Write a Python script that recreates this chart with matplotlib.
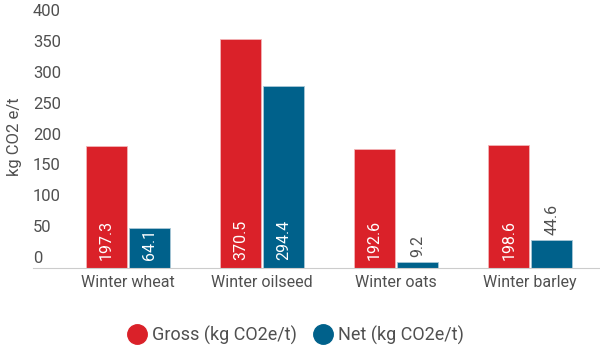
import matplotlib.pyplot as plt
import matplotlib.transforms as mtransforms
from matplotlib.lines import Line2D
import numpy as np

plt.rcParams['font.family'] = ['Roboto', 'DejaVu Sans']

# --- dados ---
culturas = ['Winter wheat', 'Winter oilseed', 'Winter oats', 'Winter barley']
bruto = [197.3, 370.5, 192.6, 198.6]
liquido = [64.1, 294.4, 9.2, 44.6]
ticks_y = [0, 50, 100, 150, 200, 250, 300, 350, 400]

COR_BRUTO = '#DA2129'
COR_LIQ = '#00618B'
COR_TEXTO = '#505050'

fig = plt.figure(figsize=(6, 3.62), dpi=100)
ax = fig.add_axes([33 / 600, 94 / 362, 567 / 600, 247 / 362])

x = np.arange(len(culturas))
larg = 0.306
b1 = ax.bar(x - larg / 2 - 0.008, bruto, larg, color=COR_BRUTO, edgecolor='#F3B5B7', linewidth=0.6)
b2 = ax.bar(x + larg / 2 + 0.008, liquido, larg, color=COR_LIQ, edgecolor='#A9C7D6', linewidth=0.6)

ax.set_xlim(-0.709, 3.52)
ax.set_ylim(0, 400)

# rotulos das barras: dentro se couber, senao acima
for barras in (b1, b2):
    for b in barras:
        v = b.get_height()
        cx = b.get_x() + b.get_width() / 2
        if v > 60:
            off = mtransforms.offset_copy(ax.transData, fig=fig, y=8, units='dots')
            ax.text(cx, 0, f'{v:.1f}', rotation=90, ha='center', va='bottom',
                    color='white', fontsize=11.5, transform=off)
        else:
            off = mtransforms.offset_copy(ax.transData, fig=fig, y=5, units='dots')
            ax.text(cx, v, f'{v:.1f}', rotation=90, ha='center', va='bottom',
                    color=COR_TEXTO, fontsize=11.5, transform=off)

# eixo y: rotulos alinhados a esquerda, acima da marca
ax.set_yticks([])
trans = mtransforms.blended_transform_factory(ax.transAxes, ax.transData)
trans = trans + mtransforms.ScaledTranslation(0, 2 / 100, fig.dpi_scale_trans)
for t in ticks_y:
    ax.text(0, t, str(t), ha='left', va='bottom', fontsize=12, color=COR_TEXTO, transform=trans)

ax.set_xticks(x)
ax.set_xticklabels(culturas, fontsize=11.5, color=COR_TEXTO)
ax.tick_params(axis='x', length=0, pad=5)

for s in ['top', 'right', 'left']:
    ax.spines[s].set_visible(False)
ax.spines['bottom'].set_color('#CCCCCC')

fig.text(15 / 600, 1 - 137 / 362, 'kg CO2 e/t', rotation=90, ha='center', va='center',
         fontsize=12, color=COR_TEXTO)

handles = [Line2D([], [], marker='o', linestyle='', markersize=14, color=COR_BRUTO),
           Line2D([], [], marker='o', linestyle='', markersize=14, color=COR_LIQ)]
leg = fig.legend(handles, ['Gross (kg CO2e/t)', 'Net (kg CO2e/t)'], loc='center',
                 bbox_to_anchor=(295 / 600, 1 - 335 / 362), ncol=2, frameon=False,
                 fontsize=13, handletextpad=0.2, columnspacing=0.9, handlelength=1.2)
for t in leg.get_texts():
    t.set_color(COR_TEXTO)

fig.savefig('out.png', dpi=100)
